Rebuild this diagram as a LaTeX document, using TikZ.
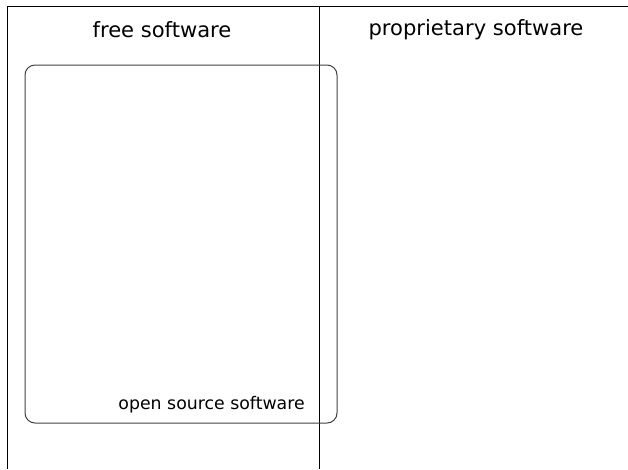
\documentclass[tikz,border=0pt]{standalone}
\usepackage{fontspec}
\setmainfont{DejaVu Sans}
\usepackage{xcolor}
\usepackage{tikz}
\usetikzlibrary{positioning}
\pgfkeys{tikz/myframe/.style={draw=black,line width=0.75pt}}
\pgfkeys{tikz/myset/.style={draw=black!75,line width=0.75pt,rounded corners=7.5pt,minimum width=234pt,minimum height=268.5pt,inner sep=0pt}}
\pgfkeys{tikz/mytitle/.style={font=\fontsize{15.8}{19}\selectfont,anchor=base,inner sep=0pt}}
\pgfkeys{tikz/mylabel/.style={font=\fontsize{13}{16}\selectfont,anchor=base east,inner sep=0pt}}

\begin{document}
\begin{tikzpicture}[x=0.75pt,y=-0.75pt]
    \useasboundingbox (0,0) rectangle (628,469);
    \coordinate (topleft) at (7,6);
    \coordinate (topright) at (628,6);
    \coordinate (bottomleft) at (7,469);
    \coordinate (divtop) at (319,6);
    \coordinate (divbottom) at (319,469);
    \draw[myframe] (bottomleft) -- (topleft) -- (topright);
    \draw[myframe] (divtop) -- (divbottom);
    \node[myset] (oss) at (181,244) {};
    \node[mytitle] (free) at (162,37) {free software};
    \node[mytitle] (prop) at (476,35) {proprietary software};
    \node[mylabel] (osslabel) at (305,409) {open source software};
\end{tikzpicture}
\end{document}
